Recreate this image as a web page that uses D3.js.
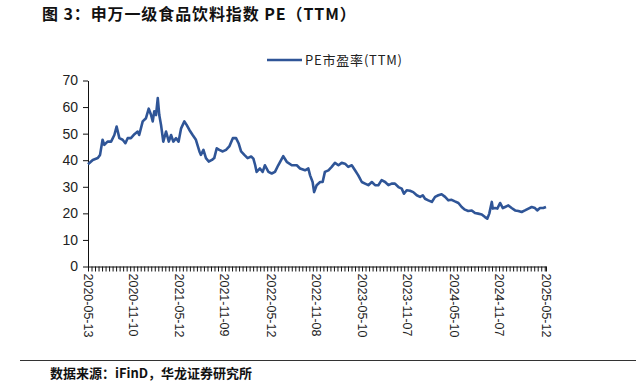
<!DOCTYPE html>
<html><head><meta charset="utf-8">
<script src="https://cdn.jsdelivr.net/npm/d3@7"></script>
<style>
html,body{margin:0;padding:0;background:#fff;}
svg{display:block;}
</style>
</head><body>
<svg id="c" width="636" height="381"></svg>
<script>
const titleText = "图 3：申万一级食品饮料指数 PE（TTM）";
const legendLabel = "PE市盈率(TTM)";
const sourceText = "数据来源：iFinD，华龙证券研究所";
const yTicks = [0,10,20,30,40,50,60,70];
const xLabelDates = ["2020-05-13","2020-11-10","2021-05-12","2021-11-09","2022-05-12","2022-11-08","2023-05-10","2023-11-07","2024-05-10","2024-11-07","2025-05-12"];
const dates = ["2020-05-13","2020-06-01","2020-06-21","2020-06-30","2020-07-10","2020-07-17","2020-07-30","2020-08-13","2020-08-26","2020-09-04","2020-09-15","2020-09-28","2020-10-09","2020-10-18","2020-10-31","2020-11-14","2020-11-27","2020-12-03","2020-12-17","2020-12-30","2021-01-10","2021-01-19","2021-01-26","2021-02-01","2021-02-08","2021-02-15","2021-02-21","2021-02-28","2021-03-09","2021-03-20","2021-03-31","2021-04-09","2021-04-18","2021-04-29","2021-05-09","2021-05-19","2021-06-01","2021-06-10","2021-06-21","2021-07-04","2021-07-17","2021-07-31","2021-08-06","2021-08-16","2021-08-26","2021-09-06","2021-09-19","2021-09-28","2021-10-08","2021-10-18","2021-11-01","2021-11-14","2021-11-27","2021-12-11","2021-12-24","2022-01-03","2022-01-13","2022-01-26","2022-02-08","2022-02-22","2022-03-03","2022-03-10","2022-03-16","2022-03-29","2022-04-09","2022-04-18","2022-05-02","2022-05-15","2022-05-28","2022-06-10","2022-06-30","2022-07-14","2022-08-03","2022-08-23","2022-09-05","2022-09-25","2022-10-08","2022-10-15","2022-10-25","2022-10-31","2022-11-10","2022-11-24","2022-12-04","2022-12-13","2022-12-27","2023-01-09","2023-01-22","2023-02-05","2023-02-18","2023-03-03","2023-03-16","2023-03-30","2023-04-12","2023-04-25","2023-05-09","2023-05-22","2023-06-04","2023-06-18","2023-07-01","2023-07-14","2023-07-27","2023-08-10","2023-08-23","2023-09-05","2023-09-18","2023-10-02","2023-10-15","2023-10-24","2023-11-04","2023-11-17","2023-11-30","2023-12-14","2023-12-27","2024-01-07","2024-01-16","2024-01-29","2024-02-12","2024-02-25","2024-03-09","2024-03-22","2024-04-05","2024-04-18","2024-05-01","2024-05-14","2024-05-28","2024-06-10","2024-06-23","2024-07-06","2024-07-20","2024-08-02","2024-08-15","2024-08-29","2024-09-11","2024-09-20","2024-09-28","2024-10-08","2024-10-12","2024-10-21","2024-10-30","2024-11-10","2024-11-21","2024-11-30","2024-12-13","2024-12-26","2025-01-09","2025-01-22","2025-02-04","2025-02-17","2025-03-03","2025-03-16","2025-03-29","2025-04-07","2025-04-18","2025-05-01","2025-05-12"];
const peValues = [38.5,40.1,40.8,42.0,47.7,45.8,47.0,47.0,49.5,52.7,48.3,47.7,46.4,48.3,48.3,49.8,50.8,49.5,54.6,55.8,59.4,57.1,54.6,58.4,57.0,63.4,57.0,53.3,47.0,50.8,47.0,49.5,47.0,48.3,47.0,52.0,54.6,53.3,51.4,49.5,47.7,43.3,42.0,43.9,40.8,39.5,40.1,40.8,44.5,43.9,43.3,43.9,45.2,48.3,48.3,46.4,43.3,42.0,40.8,41.4,40.6,38.2,35.6,36.9,35.6,38.1,35.6,35.0,35.6,38.1,41.5,39.4,38.1,38.1,36.9,36.2,36.9,34.3,31.8,28.0,30.6,31.8,31.8,35.6,36.2,37.5,39.0,38.1,39.0,38.7,37.5,38.1,36.2,34.3,31.8,31.2,30.6,31.8,30.6,30.6,32.5,31.8,30.6,31.2,31.2,29.9,29.3,27.4,28.7,28.5,28.0,26.8,26.2,26.8,25.5,24.9,24.3,26.2,26.8,27.2,26.2,24.9,25.1,24.5,23.9,22.4,21.4,20.9,21.1,20.1,19.9,19.6,18.6,18.0,19.9,24.3,21.8,22.0,21.8,23.9,22.0,22.4,23.0,22.0,21.1,20.9,20.5,21.1,21.8,22.4,22.0,21.1,22.0,22.0,22.4];

const parse = d3.timeParse("%Y-%m-%d");
const fmt = d3.timeFormat("%Y-%m-%d");
const data = dates.map((d,i)=>({date:parse(d), v:peValues[i]}));
const svg = d3.select("#c");
const m = {left:88, right:546, top:80.5, bottom:266.5};

const x = d3.scaleTime().domain([parse(xLabelDates[0]), parse(xLabelDates[xLabelDates.length-1])]).range([m.left, m.right]);
const y = d3.scaleLinear().domain([0,70]).range([m.bottom, m.top]);

// title
svg.append("text").attr("x",42).attr("y",20)
  .attr("font-family","'Noto Sans CJK SC', sans-serif").attr("font-weight","bold")
  .attr("font-size",16).attr("letter-spacing",0.9).attr("fill","#111").text(titleText);

// legend
svg.append("line").attr("x1",267).attr("x2",302).attr("y1",60).attr("y2",60)
  .attr("stroke","#2F5597").attr("stroke-width",2.4);
svg.append("text").attr("x",305).attr("y",64.5)
  .attr("font-family","'Noto Sans CJK SC', sans-serif").attr("font-size",13).attr("letter-spacing",0.8).attr("fill","#222").text(legendLabel);

// y axis
const yAxis = svg.append("g").attr("transform",`translate(${m.left},0)`)
  .call(d3.axisLeft(y).tickValues(yTicks).tickSize(5).tickSizeOuter(0));
yAxis.select(".domain").attr("stroke","#111");
yAxis.selectAll(".tick line").attr("stroke","#111");
yAxis.selectAll("text").attr("font-family","'Liberation Sans', Arial, sans-serif").attr("font-size",14).attr("fill","#222").attr("dx","-2");

// x axis minor ticks (every 14 days)
const start = parse(xLabelDates[0]), end = parse(xLabelDates[xLabelDates.length-1]);
const minor = [];
for (let i=0; ; i++){ const d=d3.timeDay.offset(start,14*i); if(d> end) break; minor.push(d); }
minor.push(end);
const xAxis = svg.append("g").attr("transform",`translate(0,${m.bottom})`)
  .call(d3.axisBottom(x).tickValues(minor).tickSize(5).tickSizeOuter(0).tickFormat(""));
xAxis.select(".domain").attr("stroke","#111");
xAxis.selectAll(".tick line").attr("stroke","#111");

// x labels
const xl = svg.append("g");
xLabelDates.forEach(s=>{
  const d = parse(s);
  xl.append("text")
    .attr("transform",`translate(${x(d)},${m.bottom+7}) rotate(90)`)
    .attr("dy","0.35em")
    .attr("font-family","'Liberation Sans', Arial, sans-serif").attr("font-size",12.5).attr("fill","#222")
    .text(fmt(d));
});

// line
svg.append("path").datum(data)
  .attr("fill","none").attr("stroke","#2F5597").attr("stroke-width",2.6).attr("stroke-linejoin","round")
  .attr("d", d3.line().x(d=>x(d.date)).y(d=>y(d.v)));

// bottom rule and source
svg.append("line").attr("x1",20).attr("x2",636).attr("y1",360.5).attr("y2",360.5).attr("stroke","#333").attr("stroke-width",1);
svg.append("text").attr("x",50).attr("y",378)
  .attr("font-family","'Noto Sans CJK SC', sans-serif").attr("font-weight","bold")
  .attr("font-size",13).attr("fill","#111").text(sourceText);
</script>
</body></html>
